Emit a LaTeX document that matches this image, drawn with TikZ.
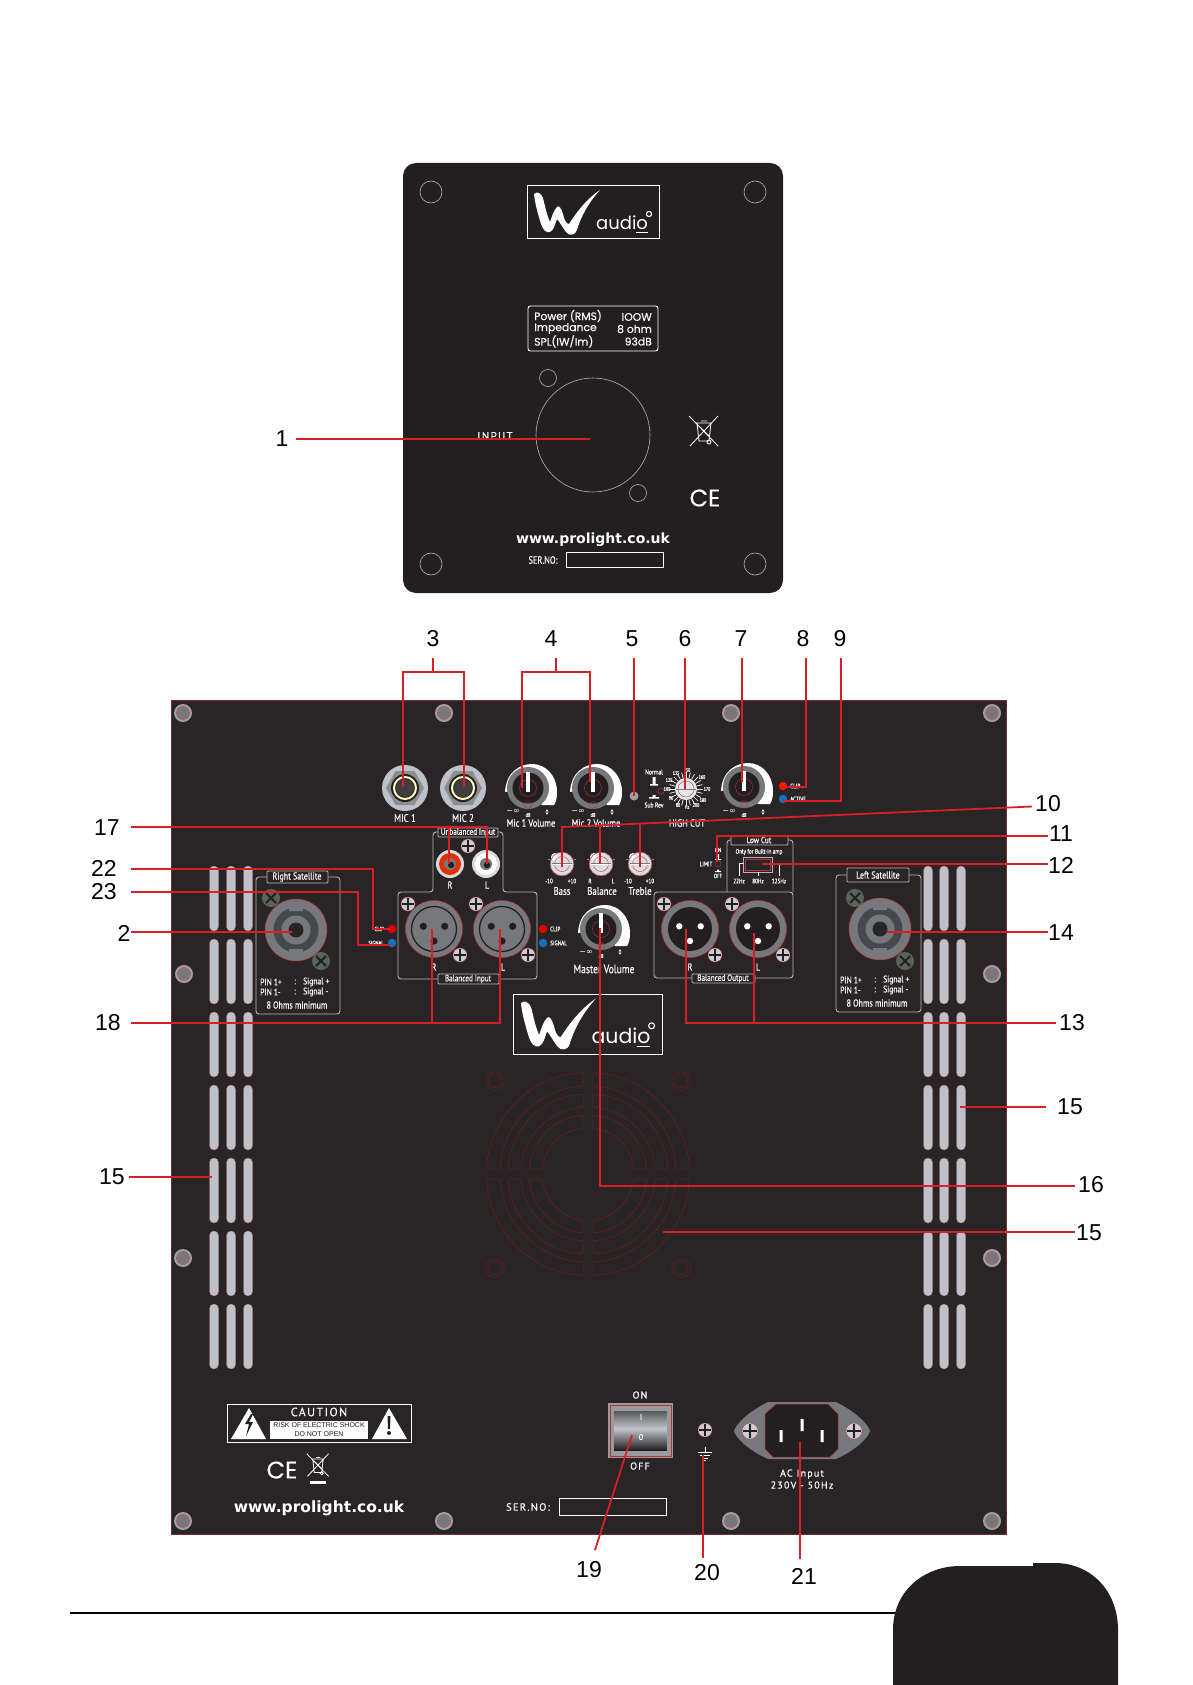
\documentclass[tikz,border=0pt]{standalone}
\usepackage{fontspec}
\setmainfont{PT Sans}
\newfontfamily\din[FakeStretch=0.8,FakeBold=0.3]{PT Sans}
\newfontfamily\dinw[LetterSpace=12,FakeBold=0.3]{PT Sans}
\newfontfamily\dej{DejaVu Sans}
\newfontfamily\pop{Poppins}
\newfontfamily\popb[FakeBold=0.3]{Poppins}
\newfontfamily\arl{Liberation Sans}
\definecolor{panel}{HTML}{292526}
\definecolor{blackc}{HTML}{231F20}
\definecolor{redc}{HTML}{D71F27}
\definecolor{rim}{HTML}{B5323A}
\definecolor{grayc}{HTML}{77787B}
\definecolor{lgray}{HTML}{BEC1C7}
\definecolor{fan}{HTML}{6A2024}
\definecolor{linec}{HTML}{B4B6B9}
\definecolor{xscr}{HTML}{58635C}
\definecolor{swtop}{HTML}{58585B}
\newcounter{tc}
\tikzset{
  txt/.style={text=white,inner sep=0pt},
  lead/.style={draw=redc,line width=1.8pt},
  num/.style={text=black,inner sep=0pt},
  slot/.style={fill=lgray,draw=rim!60!lgray,line width=.3pt,rounded corners=4.4pt},
  hole/.style={draw=linec,line width=.6pt},
  frame/.style={draw=white,line width=1pt},
  thin box/.style={draw=linec,line width=.9pt,rounded corners=3pt},
  tab box/.style={draw=linec,fill=panel,line width=.9pt,rounded corners=1pt},
  fanline/.style={draw=fan,line width=.5pt,rounded corners=1.5pt}
}
\newcommand\tx[5][]{\stepcounter{tc}\node[txt,#1] (tx\arabic{tc}) at (#2,#3) {\fontsize{#4}{#4}\selectfont #5};}
\newcommand\nm[4]{\node[num] (#1) at (#2,#3) {\fontsize{23}{23}\selectfont\arl #4};}
\newcommand\bolt[2]{\fill[color=grayc!70!white] (#1,#2) circle (9);\fill[color=grayc] (#1,#2) circle (6);\draw[rim,line width=.4pt] (#1,#2) circle (6.5);}
\newcommand\vents[1]{\foreach \vx in {#1}{\foreach \vy in {866,939,1012,1085,1158,1231,1304}{\draw[slot] (\vx-4.5,\vy) rectangle (\vx+4.5,\vy+65);}}}
\newcommand\plusscrew[3]{\fill[color=lgray!80!white] (#1,#2) circle (#3);\draw[rim,line width=.3pt] (#1,#2) circle (#3);\draw[blackc,line width=1.6pt] (#1-#3+1,#2) -- (#1+#3-1,#2) (#1,#2-#3+1) -- (#1,#2+#3-1);}
\newcommand\xscrew[2]{\fill[color=xscr] (#1,#2) circle (9);\draw[blackc,line width=1.8pt] (#1-5,#2-5) -- (#1+5,#2+5) (#1+5,#2-5) -- (#1-5,#2+5);}
\newcommand\jack[2]{\fill[color=lgray] (#1,#2) circle (23);
  \fill[color=grayc!70!lgray] (#1+19,#2) -- (#1+9.5,#2-17) -- (#1-9.5,#2-17) -- (#1-19,#2) -- (#1-9.5,#2+17) -- (#1+9.5,#2+17) -- cycle;
  \fill[color=blackc] (#1,#2) circle (14);\draw[color=yellow!25!white,line width=2pt] (#1,#2) circle (11);\fill[color=grayc!35!blackc] (#1,#2) circle (9);}
\newcommand\knob[2]{\fill[white] (#1-23,#2+4) .. controls (#1-22,#2-16) and (#1-8,#2-24) .. (#1+4,#2-24) .. controls (#1+18,#2-24) and (#1+29,#2-12) .. (#1+29,#2+4) .. controls (#1+29,#2+10) and (#1+28,#2+14) .. (#1+26,#2+17) -- (#1+14,#2+17) -- (#1,#2) -- cycle;
  \fill[color=grayc] (#1,#2) circle (21);\fill[color=blackc] (#1,#2) circle (15.5);\draw[rim,line width=.4pt] (#1,#2) circle (8.5);\draw[rim,line width=.4pt] (#1,#2+17) circle (3.5);
  \fill[white] (#1-2.2,#2-16) rectangle (#1+2.2,#2+4);}
\newcommand\minik[2]{\fill[color=lgray!55!white] (#1,#2) circle (12);\fill[color=lgray!15!white] (#1-7,#2-7) circle (4);\draw[rim,line width=.5pt] (#1,#2) circle (11.8);\draw[rim,line width=.4pt] (#1,#2) circle (7.5);\fill[color=grayc] (#1-10,#2-1) rectangle (#1+10,#2+1);\fill[white] (#1-10,#2-.3) rectangle (#1+10,#2+.3);
  \fill[white] (#1-13,#2-4.5) circle (.6) (#1+13,#2-4.5) circle (.6);}
\newcommand\rca[3]{\fill[color=lgray!60!white] (#1,#2) circle (14);\fill[color=#3] (#1,#2) circle (11);\fill[color=grayc] (#1,#2) circle (6);\fill[color=blackc] (#1+1,#2+1) circle (3.2);}
\newcommand\xlrf[2]{\fill[color=grayc] (#1,#2) circle (28.5);\draw[rim,line width=.5pt] (#1,#2) circle (28.5);\draw[blackc,line width=1.3pt] (#1,#2) circle (22.5);
  \fill[blackc] (#1-10.7,#2-2.7) circle (3.6) (#1+10.7,#2-2.7) circle (3.6) (#1,#2+12) circle (3.6);}
\newcommand\xlrm[2]{\fill[color=grayc] (#1,#2) circle (28.5);\draw[rim,line width=.5pt] (#1,#2) circle (28.5);\fill[blackc] (#1,#2) circle (22);
  \fill[white] (#1-10.7,#2-2.7) circle (3.2) (#1+10.7,#2-2.7) circle (3.2) (#1,#2+12) circle (3.2);}
\newcommand\speakon[2]{\fill[color=grayc] (#1,#2) circle (31);\draw[rim,line width=.5pt] (#1,#2) circle (31);\fill[color=grayc!60!black] (#1,#2) circle (22.5);\fill[color=grayc] (#1,#2) circle (14.5);\fill[color=panel] (#1,#2) circle (7.5);\fill[color=grayc] (#1-7,#2-23) rectangle (#1+7,#2-19) (#1-7,#2+19) rectangle (#1+7,#2+23);}
\newcommand\led[3]{\fill[color=#3] (#1,#2) circle (4.2);}
\newcommand\recyc[3]{\begin{scope}[shift={(#1,#2)},scale=#3]
  \draw[white,line width=.8pt] (-15,-15) -- (14,15) (14,-15) -- (-14,15) (-8,-8) -- (8,-8) (-7,-8) -- (-5,10) -- (5,10) -- (7,-8) (-3,-10) -- (3,-10) (-5,-5) -- (5,5);
  \draw[white,line width=.8pt] (5,11) circle (2);\end{scope}}
\newcommand\logo[3]{\begin{scope}[shift={(#1,#2)},scale=#3]
  \draw[frame] (0,0) rectangle (132,53);
  \fill[white] (7,8) .. controls (10,5) and (14,7) .. (16,12) .. controls (18,20) and (20,30) .. (23,36) .. controls (25,30) and (27,24) .. (30,21) .. controls (32,19) and (34,22) .. (36,28) .. controls (37,33) and (39,38) .. (42,38) .. controls (47,30) and (58,14) .. (73,4) .. controls (62,16) and (54,30) .. (50,44) .. controls (48,50) and (42,50) .. (39,46) .. controls (35,41) and (33,36) .. (30,33) .. controls (28,38) and (27,44) .. (23,46) .. controls (19,47) and (16,44) .. (14,38) .. controls (11,28) and (8,18) .. (7,8) -- cycle;
  \tx[anchor=base west,transform shape]{69}{44}{18}{\pop audio}
  \draw[white,line width=1.1pt] (109,46.5) -- (121,46.5);
  \draw[white,line width=1.1pt] (122,28) circle (2.6);
  \end{scope}}
\begin{document}
\begin{tikzpicture}[x=1pt,y=-1pt]
\useasboundingbox (0,0) rectangle (1192,1685);
% ---------- upper panel
\fill[blackc,rounded corners=13pt] (403,163) rectangle (783,593);
\foreach \hx/\hy in {431/192,755/192,431/564,755/564}{\draw[hole] (\hx,\hy) circle (11);}
\logo{527}{186}{1}
\draw[white,line width=.9pt,rounded corners=2.5pt] (528,306) rectangle (658,351);
\tx[anchor=west]{534}{316}{10.8}{\popb Power (RMS)}
\tx[anchor=west]{534}{328.5}{10.8}{\popb Impedance}
\tx[anchor=west]{534}{341.5}{10.8}{\popb SPL(IW/Im)}
\tx[anchor=east]{652}{317}{10.8}{\popb IOOW}
\tx[anchor=east]{652}{329}{10.8}{\popb 8 ohm}
\tx[anchor=east]{652}{341.5}{10.8}{\popb 93dB}
\draw[hole] (593,435) circle (57);
\draw[hole] (548,378) circle (8.5);
\draw[hole] (638,493) circle (8.5);
\tx{495}{436}{11}{\dinw INPUT}
\recyc{704}{431}{1}
\tx{705}{498}{24}{\popb CE}
\tx{593}{540}{14}{\dej\bfseries www.prolight.co.uk}
\tx{543}{560}{10.5}{\din SER.NO:}
\draw[white,line width=.8pt] (566,552) rectangle (663,567);
% ---------- lower panel
\fill[panel] (171,700) rectangle (1006,1534);
\draw[rim!55!panel,line width=.5pt] (171,700) rectangle (1006,1534);
\foreach \bx/\by in {183/713,444/713,731/713,992/713,184/974,992/974,183/1258,992/1258,183/1521,444/1521,731/1521,992/1521}{\bolt{\bx}{\by}}
\vents{214,231,248}
\vents{928,944,961}
% jacks
\jack{405}{788}\jack{463}{788}
\tx{405}{818}{11}{\din MIC 1}
\tx{463}{818}{11}{\din MIC 2}
\knob{528}{788}\knob{593}{788}\knob{744}{787}
\tx{513}{812}{8}{\dej−∞}\tx{528}{815}{5.5}{\din dB}\tx{547}{812}{6.5}{\din 0}
\tx{578}{812}{8}{\dej−∞}\tx{593}{815}{5.5}{\din dB}\tx{612}{812}{6.5}{\din 0}
\tx{729}{812}{8}{\dej−∞}\tx{744}{815}{5.5}{\din dB}\tx{763}{812}{6.5}{\din 0}
\tx{531}{823}{10.5}{\din Mic 1 Volume}
\tx{596}{823}{10.5}{\din Mic 2 Volume}
\tx{687}{823}{10.5}{\din HIGH CUT}
\fill[color=grayc!70!white] (634,796) circle (4.5);
\tx{654}{772}{7}{\din Normal}
\tx{654}{805}{7}{\din Sub Rev}
\fill[white] (652.5,777) rectangle (655.5,784) (650,784) rectangle (658,785.5);
\fill[white] (652.5,795) rectangle (655.5,797) (649,797) rectangle (659,798.5);
\draw[rim,line width=.5pt] (661,791) circle (3);
% high-cut dial
\foreach \ang in {0,15,...,345}{\draw[white,line width=.7pt] (686,789) ++(\ang:11) -- ++(\ang:6);}
\fill[color=lgray!40!white] (686,789) circle (11);
\draw[rim,line width=.4pt] (686,789) circle (8);
\fill[color=grayc] (676,788.5) rectangle (696,789.5);
\foreach \dn/\dx/\dy in {80/678/805,90/671/798,100/667/789,120/669/780,135/676/773,150/687/770,160/702/777,170/707/789,180/703/800,200/696/805,Hz/687/807}{\tx{\dx}{\dy}{5}{\din\dn}}
\led{783}{786}{red!80!orange}
\led{783}{799}{cyan!50!blue}
\tx[anchor=west]{790}{786}{6.5}{\din CLIP}
\tx[anchor=west]{790}{799}{6.5}{\din ACTIVE}
% unbalanced / balanced input
\draw[thin box] (398,892) -- (433,892) -- (433,832) -- (503,832) -- (503,892) -- (537,892) -- (537,979) -- (398,979) -- cycle;
\draw[tab box] (438,828) rectangle (498,837);
\tx{468}{832.5}{9}{\din Unbalanced Input}
\plusscrew{468}{846}{7}
\rca{450}{864}{red!60!orange!90!black}
\rca{486}{864}{white}
\tx{450}{885}{10}{\din R}\tx{487}{885}{10}{\din L}
\xlrf{434}{929}\xlrf{502}{929}
\plusscrew{408}{904}{7}\plusscrew{460}{955}{7}\plusscrew{476}{904}{7}\plusscrew{528}{955}{7}
\tx{434}{967}{10}{\din R}\tx{503}{967}{10}{\din L}
\draw[tab box] (438,974) rectangle (499,984);
\tx{468}{979}{9}{\din Balanced Input}
\led{543}{929}{red!90!black}\led{543}{943}{cyan!50!blue}
\tx[anchor=west]{550}{929}{6.5}{\din CLIP}\tx[anchor=west]{550}{943}{6.5}{\din SIGNAL}
\led{392}{929}{red!90!black}\led{392}{943}{cyan!50!blue}
\tx[anchor=east]{384}{929}{6}{\din CLIP}\tx[anchor=east]{384}{943}{6}{\din SIGNAL}
% tone knobs
\minik{562}{864}\minik{601}{864}\minik{640}{864}
\tx{549}{881}{6.5}{\din -10}\tx{572}{881}{6.5}{\din +10}\tx{562}{891}{11}{\din Bass}
\tx{590}{881}{6.5}{\din R}\tx{613}{881}{6.5}{\din L}\tx{602}{891}{11}{\din Balance}
\tx{628}{881}{6.5}{\din -10}\tx{650}{881}{6.5}{\din +10}\tx{640}{891}{11}{\din Treble}
\knob{601}{929}
\tx{586}{953}{8}{\dej−∞}\tx{601}{956}{5.5}{\din dB}\tx{620}{952}{6.5}{\din 0}
\tx{604}{969}{12}{\din Master Volume}
% low cut
\draw[thin box] (727,892) -- (727,840) -- (793,840) -- (793,892);
\draw[tab box] (731,836) rectangle (788,845);
\tx{759}{840}{9}{\din Low Cut}
\tx{759}{852}{6.5}{\din Only for Built-in amp}
\draw[linec,line width=1pt] (743,857) rectangle (772,872);
\draw[rim,line width=.4pt] (745,859) rectangle (770,870);
\draw[white,line width=.5pt] (743,863) -- (739,863) -- (739,876) (758,872) -- (758,876) (772,863) -- (779,863) -- (779,876);
\tx{739}{881}{6.5}{\din 22Hz}\tx{758}{881}{6.5}{\din 80Hz}\tx{779}{881}{6.5}{\din 125Hz}
\tx{706}{864}{6.5}{\din LIMIT}\tx{718}{850}{6}{\din ON}\tx{718}{876}{6}{\din OFF}
\fill[white] (717,854) rectangle (719,859) (715,859) rectangle (721,860) (717,869.5) rectangle (719,871) (715,871) rectangle (721,872);
\draw[rim,line width=.5pt] (718,864) circle (3);
% balanced output
\draw[thin box] (654,892) rectangle (793,978);
\draw[tab box] (692,974) rectangle (755,983);
\tx{723}{978.5}{9}{\din Balanced Output}
\xlrm{690}{929}\xlrm{758}{929}
\plusscrew{664}{904}{7}\plusscrew{715}{955}{7}\plusscrew{732}{904}{7}\plusscrew{783}{955}{7}
\tx{690}{967}{10}{\din R}\tx{758}{967}{10}{\din L}
% satellites
\draw[thin box] (256,877) rectangle (340,1014);
\draw[tab box] (267,871) rectangle (328,883);
\tx{297}{877}{10}{\din Right Satellite}
\speakon{296}{930}\xscrew{271}{898}\xscrew{321}{961}
\tx[anchor=west]{260}{982}{9.5}{\din PIN 1+}\tx{295}{982}{9.5}{\din :}\tx[anchor=west]{303}{982}{9.5}{\din Signal +}
\tx[anchor=west]{260}{992}{9.5}{\din PIN 1-}\tx{295}{992}{9.5}{\din :}\tx[anchor=west]{303}{992}{9.5}{\din Signal -}
\tx{297}{1005}{10}{\din 8 Ohms minimum}
\draw[thin box] (836,875) rectangle (921,1012);
\draw[tab box] (847,868) rectangle (909,882);
\tx{878}{875}{10}{\din Left Satellite}
\speakon{880}{929}\xscrew{855}{898}\xscrew{905}{961}
\tx[anchor=west]{840}{980}{9.5}{\din PIN 1+}\tx{875}{980}{9.5}{\din :}\tx[anchor=west]{883}{980}{9.5}{\din Signal +}
\tx[anchor=west]{840}{990}{9.5}{\din PIN 1-}\tx{875}{990}{9.5}{\din :}\tx[anchor=west]{883}{990}{9.5}{\din Signal -}
\tx{877}{1003}{10}{\din 8 Ohms minimum}
\logo{513}{994}{1.136}
% fan grill
\foreach \q in {0,90,180,270}{\foreach \ro/\ri in {101.5/88,80/67,59/46}{
  \pgfmathsetmacro{\ao}{asin(5/\ro)}\pgfmathsetmacro{\ai}{asin(5/\ri)}
  \pgfmathsetmacro{\sa}{\q+\ao}\pgfmathsetmacro{\ea}{\q+90-\ao}\pgfmathsetmacro{\sb}{\q+90-\ai}\pgfmathsetmacro{\eb}{\q+\ai}
  \draw[fanline] ([shift={(\sa:\ro)}]588,1174) arc[start angle=\sa,end angle=\ea,radius=\ro] -- ([shift={(\sb:\ri)}]588,1174) arc[start angle=\sb,end angle=\eb,radius=\ri] -- cycle;
}}
\foreach \fx/\fy in {495/1081,681/1081,495/1268,681/1268}{\draw[fanline] (\fx,\fy) circle (9.3) (\fx,\fy) circle (6.5);}
% caution and bottom strip
\draw[white,line width=.8pt] (227,1404) rectangle (411,1442);
\tx{319}{1412}{12}{\dinw CAUTION}
\fill[white] (270,1421) rectangle (368,1439);
\tx[text=blackc]{319}{1425.5}{7}{\arl RISK OF ELECTRIC SHOCK}
\tx[text=blackc]{319}{1434}{7}{\arl DO NOT OPEN}
\fill[white] (231,1439) -- (266,1439) -- (249,1408) -- cycle;
\fill[white] (372,1439) -- (407,1439) -- (389,1408) -- cycle;
\fill[blackc] (251,1414) -- (245,1424) -- (249,1424) -- (246,1436) -- (253,1422) -- (249,1422) -- (253,1414) -- cycle;
\fill[blackc] (387.5,1416) -- (390.5,1416) -- (390,1429) -- (388,1429) -- cycle (389,1433) circle (2);
\tx{282}{1470}{24}{\popb CE}
\recyc{318}{1465}{.75}
\fill[white] (310,1481) rectangle (326,1484);
\tx{319}{1508}{15.5}{\dej\bfseries www.prolight.co.uk}
\tx{528}{1507}{10.5}{\dinw SER.NO:}
\draw[white,line width=.8pt] (559,1498) rectangle (666,1515);
\draw[dashed,green!30!black,line width=.3pt] (427,1392) circle (7) (552,1430) circle (7);
% power switch
\fill[color=grayc!75!white] (608,1403) rectangle (673,1458);
\draw[rim,line width=.3pt] (610,1405) rectangle (671,1456);
\foreach \i in {0,...,17}{\pgfmathsetmacro{\m}{100*\i/17}\fill[color=lgray!\m!swtop] (614,1411+\i) rectangle (667,1412.2+\i);}
\foreach \i in {0,...,21}{\pgfmathsetmacro{\m}{100*(1-\i/21)}\fill[color=lgray!\m!blackc] (614,1429+\i) rectangle (667,1430.2+\i);}
\tx{641}{1417}{8}{\din I}\tx{641}{1437}{8}{\din O}
\tx{640}{1395}{10}{\dinw ON}\tx{640}{1466}{10}{\dinw OFF}
% earth and inlet
\plusscrew{705}{1430}{7}
\draw[white,line width=.7pt] (705,1447) -- (705,1452) (698,1452) -- (712,1452) (700,1455) -- (710,1455) (702,1458) -- (708,1458) (704,1460.5) -- (706,1460.5);
\fill[color=grayc] (734,1431) .. controls (736,1424) and (748,1412) .. (768,1402) -- (836,1402) .. controls (856,1412) and (868,1424) .. (870,1431) .. controls (868,1438) and (856,1450) .. (836,1459) -- (768,1459) .. controls (748,1450) and (736,1438) .. (734,1431) -- cycle;
\fill[blackc] (776,1404) -- (828,1404) -- (838,1414) -- (838,1449) -- (830,1457) -- (773,1457) -- (765,1449) -- (765,1414) -- cycle;
\draw[rim,line width=.5pt] (776,1404) -- (828,1404) -- (838,1414) -- (838,1449) -- (830,1457) -- (773,1457) -- (765,1449) -- (765,1414) -- cycle;
\fill[white] (800.5,1419) rectangle (803.5,1431) (779.5,1430) rectangle (782.5,1442) (820.5,1430) rectangle (823.5,1442);
\plusscrew{750}{1431}{8}\plusscrew{854}{1431}{8}
\tx{802}{1474}{10}{\dinw AC Input}
\tx{802}{1485}{10}{\dinw 230V - 50Hz}
% ---------- number labels
\nm{l1}{282}{439}{1}
\nm{l3}{433}{639}{3}\nm{l4}{551}{639}{4}\nm{l5}{632}{639}{5}\nm{l6}{685}{639}{6}\nm{l7}{741}{639}{7}\nm{l8}{803}{639}{8}\nm{l9}{840}{639}{9}
\nm{l10}{1048}{804}{10}\nm{l11}{1061}{834}{11}\nm{l12}{1061}{865}{12}\nm{l14}{1061}{933}{14}\nm{l13}{1072}{1023}{13}
\nm{l15r}{1070}{1107}{15}\nm{l16}{1091}{1185}{16}\nm{l15f}{1089}{1233}{15}\nm{l15l}{112}{1177}{15}
\nm{l18}{108}{1023}{18}\nm{l2}{124}{933}{2}\nm{l23}{104}{892}{23}\nm{l22}{104}{868}{22}\nm{l17}{107}{828}{17}
\nm{l19}{589}{1570}{19}\nm{l20}{707}{1573}{20}\nm{l21}{804}{1576}{21}
% ---------- leader lines
\coordinate (s1) at (296,439);\coordinate (t1) at (590,439);
\draw[lead] (s1) -- (t1);
\coordinate (s3) at (433,658);\coordinate (j3) at (433,672);\coordinate (t3a) at (403,787);\coordinate (t3b) at (464,787);
\draw[lead] (s3) -- (j3);
\draw[lead] (t3a) -- (403,672) -- (464,672) -- (t3b);
\coordinate (s4) at (556,658);\coordinate (j4) at (556,672);\coordinate (t4a) at (522,788);\coordinate (t4b) at (590,782);
\draw[lead] (s4) -- (j4);\draw[lead] (t4a) -- (522,672) -- (590,672) -- (t4b);
\coordinate (s5) at (634,658);\coordinate (t5) at (634,796);\draw[lead] (s5) -- (t5);
\coordinate (s6) at (685,658);\coordinate (t6) at (685,789);\draw[lead] (s6) -- (t6);
\coordinate (s7) at (742,658);\coordinate (t7) at (742,782);\draw[lead] (s7) -- (t7);
\coordinate (s8) at (806,658);\coordinate (t8) at (783,787);\draw[lead] (s8) |- (t8);
\coordinate (s9) at (841,658);\coordinate (t9) at (783,801);\draw[lead] (s9) |- (t9);
\coordinate (s10) at (1032,806.5);\coordinate (c10) at (562,827);\coordinate (t10a) at (562,867);
\draw[lead] (s10) -- (c10) -- (t10a);
\coordinate (j10b) at (600,825.3);\coordinate (t10b) at (600,864);\draw[lead] (j10b) -- (t10b);
\coordinate (j10c) at (640,823.6);\coordinate (t10c) at (640,867);\draw[lead] (j10c) -- (t10c);
\coordinate (s11) at (1048,836);\coordinate (t11) at (717,862);\draw[lead] (s11) -| (t11);
\coordinate (s12) at (1048,864);\coordinate (t12) at (762,864);\draw[lead] (s12) -- (t12);
\coordinate (s14) at (1048,932);\coordinate (t14) at (887,932);\draw[lead] (s14) -- (t14);
\coordinate (s13) at (1056,1023);\coordinate (t13) at (686,929);\draw[lead] (s13) -| (t13);
\coordinate (j13) at (754,1023);\coordinate (t13b) at (754,933);\draw[lead] (j13) -- (t13b);
\coordinate (s15r) at (1046,1107);\coordinate (t15r) at (960,1107);\draw[lead] (s15r) -- (t15r);
\coordinate (s16) at (1075,1186);\coordinate (t16) at (600,928);\draw[lead] (s16) -| (t16);
\coordinate (s15f) at (1075,1232);\coordinate (t15f) at (663,1232);\draw[lead] (s15f) -- (t15f);
\coordinate (s15l) at (129,1177);\coordinate (t15l) at (212,1177);\draw[lead] (s15l) -- (t15l);
\coordinate (s18) at (131,1023);\coordinate (t18) at (500,929);\draw[lead] (s18) -| (t18);
\coordinate (j18) at (432,1023);\coordinate (t18b) at (432,929);\draw[lead] (j18) -- (t18b);
\coordinate (s2) at (131,932);\coordinate (t2) at (292,932);\draw[lead] (s2) -- (t2);
\coordinate (s23) at (131,892);\coordinate (t23) at (390,945);\draw[lead] (s23) -- (358,892) |- (t23);
\coordinate (s22) at (131,869);\coordinate (t22) at (390,929);\draw[lead] (s22) -- (373,869) |- (t22);
\coordinate (s17) at (131,827);\coordinate (t17a) at (487,864);\draw[lead] (s17) -| (t17a);
\coordinate (j17) at (449,827);\coordinate (t17b) at (449,864);\draw[lead] (j17) -- (t17b);
\coordinate (s19) at (595,1550);\coordinate (t19) at (632,1435);\draw[lead] (s19) -- (t19);
\coordinate (s20) at (703,1558);\coordinate (t20) at (703,1455);\draw[lead] (s20) -- (t20);
\coordinate (s21) at (800,1559);\coordinate (t21) at (800,1442);\draw[lead] (s21) -- (t21);
% ---------- footer
\draw[black,line width=1.6pt] (70,1613) -- (900,1613);
\fill[blackc] (893,1685) -- (893,1630) .. controls (893,1590) and (925,1566) .. (960,1566) -- (1033,1566) -- (1033,1563) -- (1055,1563) .. controls (1090,1563) and (1118,1590) .. (1118,1630) -- (1118,1685) -- cycle;
\end{tikzpicture}
\end{document}
